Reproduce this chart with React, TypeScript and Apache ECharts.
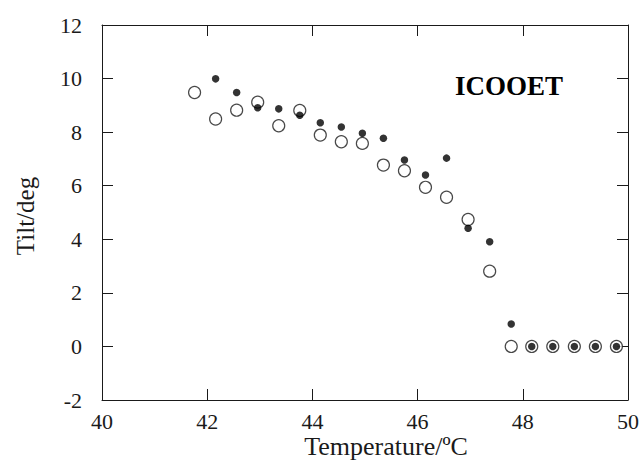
import React, { useEffect, useRef } from "react";
import * as echarts from "echarts";

const openTemps = [41.76, 42.16, 42.56, 42.96, 43.36, 43.76, 44.15, 44.55, 44.95, 45.35, 45.75, 46.15, 46.55, 46.96, 47.37, 47.78, 48.17, 48.57, 48.98, 49.38, 49.78];
const openTilt = [9.48, 8.49, 8.82, 9.12, 8.24, 8.81, 7.89, 7.64, 7.58, 6.77, 6.56, 5.94, 5.57, 4.74, 2.81, 0, 0, 0, 0, 0, 0];
const filledTemps = [42.16, 42.56, 42.96, 43.36, 43.76, 44.15, 44.55, 44.95, 45.35, 45.75, 46.15, 46.55, 46.96, 47.37, 47.78, 48.17, 48.57, 48.98, 49.38, 49.78];
const filledTilt = [9.99, 9.48, 8.91, 8.87, 8.63, 8.35, 8.19, 7.96, 7.77, 6.96, 6.4, 7.03, 4.41, 3.91, 0.84, 0, 0, 0, 0, 0];

const xTitle = "Temperature/ºC";
const yTitle = "Tilt/deg";
const label = "ICOOET";

const FONT = "'Liberation Serif', 'Times New Roman', serif";
const INK = "#1a1a1a";

export default function App() {
  const ref = useRef<HTMLDivElement>(null);
  useEffect(() => {
    document.body.style.margin = "0";
    const chart = echarts.init(ref.current!, null, { renderer: "svg" });
    const line = { show: true, onZero: false, lineStyle: { color: INK, width: 1 } };
    const tick = { show: true, inside: true, length: 11, lineStyle: { color: INK, width: 1 } };
    chart.setOption({
      animation: false,
      backgroundColor: "#ffffff",
      grid: { left: 102, right: 16, top: 25, bottom: 63, containLabel: false },
      xAxis: [
        {
          type: "value", min: 40, max: 50, interval: 2, position: "bottom",
          axisLine: line, axisTick: tick, splitLine: { show: false },
          axisLabel: { color: INK, fontFamily: FONT, fontSize: 22, margin: 10 },
        },
        {
          type: "value", min: 40, max: 50, interval: 2, position: "top",
          axisLine: line, axisTick: tick, splitLine: { show: false },
          axisLabel: { show: false },
        },
      ],
      yAxis: [
        {
          type: "value", min: -2, max: 12, interval: 2, position: "left",
          axisLine: line, axisTick: tick, splitLine: { show: false },
          axisLabel: { color: INK, fontFamily: FONT, fontSize: 22, margin: 20 },
        },
        {
          type: "value", min: -2, max: 12, interval: 2, position: "right",
          axisLine: line, axisTick: tick, splitLine: { show: false },
          axisLabel: { show: false },
        },
      ],
      series: [
        {
          type: "scatter",
          data: openTemps.map((t, i) => [t, openTilt[i]]),
          symbol: "circle", symbolSize: 12,
          itemStyle: { color: "#ffffff", borderColor: INK, borderWidth: 1.2 },
          z: 2,
        },
        {
          type: "scatter",
          data: filledTemps.map((t, i) => [t, filledTilt[i]]),
          symbol: "circle", symbolSize: 7.5,
          itemStyle: { color: "#000000" },
          z: 3,
        },
      ],
      graphic: [
        {
          type: "text", x: 386, y: 446,
          style: { text: xTitle, fill: INK, font: `26px ${FONT}`, align: "center", verticalAlign: "middle" },
        },
        {
          type: "text", x: 25, y: 216, rotation: Math.PI / 2,
          style: { text: yTitle, fill: INK, font: `25px ${FONT}`, align: "center", verticalAlign: "middle" },
        },
        {
          type: "text", x: 455, y: 86,
          style: { text: label, fill: "#000", font: `bold 27px ${FONT}`, align: "left", verticalAlign: "middle" },
        },
      ],
    });
    return () => chart.dispose();
  }, []);
  return <div ref={ref} style={{ position: "absolute", left: 0, top: 0, width: 644, height: 463 }} />;
}
